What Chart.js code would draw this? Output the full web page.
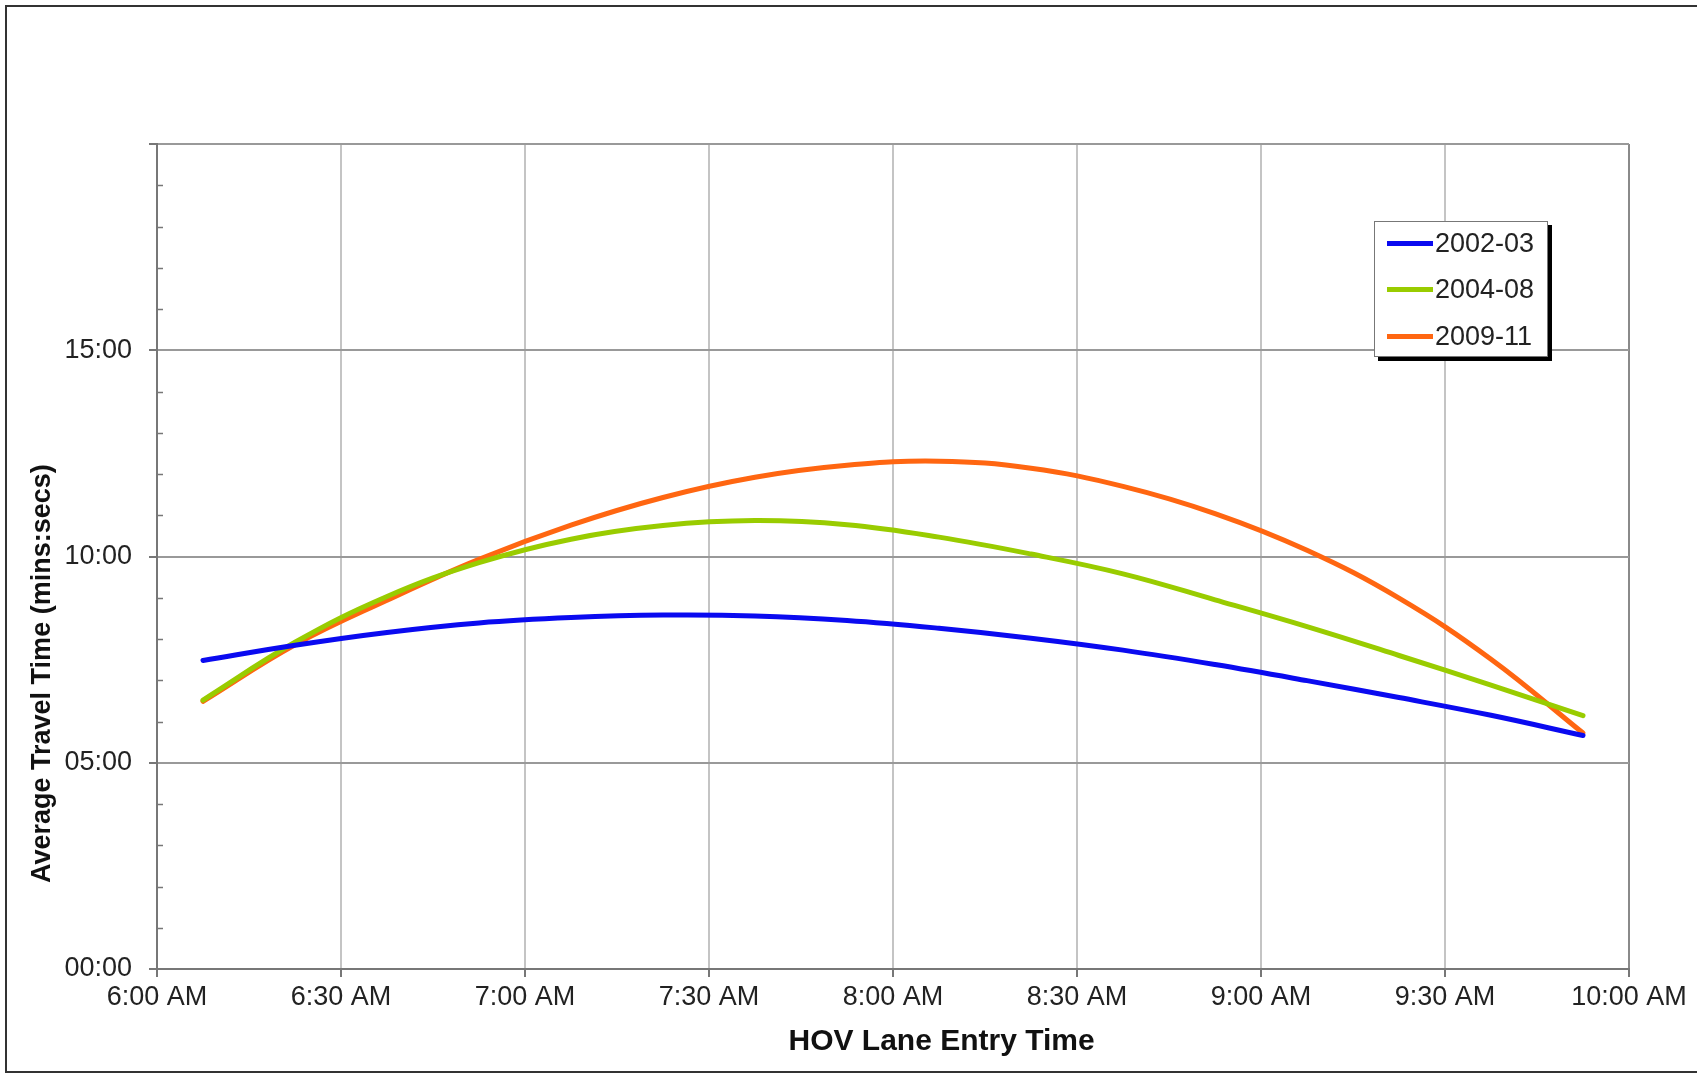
<!DOCTYPE html>
<html>
<head>
<meta charset="utf-8">
<script src="https://cdn.jsdelivr.net/npm/chart.js@4.4.1/dist/chart.umd.min.js"></script>
<style>
html,body{margin:0;padding:0;background:#fff;overflow:hidden;}
#wrap{position:relative;width:1697px;height:1074px;overflow:hidden;}
#frame{position:absolute;left:5px;top:5px;width:1720px;height:1068px;border:2px solid #333;box-sizing:border-box;pointer-events:none;}
#chart{position:absolute;left:0;top:0;}
#legend{position:absolute;left:1374px;top:221px;width:174px;height:136px;box-sizing:border-box;border:1px solid #777;background:#fff;box-shadow:4px 4px 0 #000;font:27px "Liberation Sans",Arial,sans-serif;color:#222;}
.item{position:absolute;left:0;height:30px;display:flex;align-items:center;white-space:nowrap;}
.swatch{width:46px;height:5px;margin-left:12px;}
.lbl{margin-left:2px;line-height:30px;}
</style>
</head>
<body>
<div id="wrap">
  <canvas id="chart" width="1697" height="1074"></canvas>
  <div id="frame"></div>
  <div id="legend"></div>
</div>
<script>
// ---- data (entry time in minutes after 6:00 AM / average travel time in minutes) ----
const entryTimes = [7.5, 22.5, 37.5, 52.5, 67.5, 82.5, 97.5, 112.5, 127.5, 142.5, 157.5, 172.5, 187.5, 202.5, 217.5, 232.5];
const series2002_03 = [7.48, 7.85, 8.16, 8.39, 8.52, 8.58, 8.56, 8.45, 8.26, 8.02, 7.73, 7.38, 6.99, 6.58, 6.15, 5.66];
const series2004_08 = [6.52, 7.92, 9.03, 9.85, 10.42, 10.75, 10.87, 10.77, 10.47, 10.06, 9.58, 8.95, 8.30, 7.60, 6.88, 6.14];
const series2009_11 = [6.49, 7.86, 8.94, 9.93, 10.76, 11.43, 11.92, 12.21, 12.31, 12.14, 11.70, 11.04, 10.15, 8.99, 7.51, 5.72];
const seriesLabels = ['2002-03', '2004-08', '2009-11'];
const seriesColors = ['#0a0af0', '#99cc00', '#ff6611'];
const xTickLabels = ['6:00 AM', '6:30 AM', '7:00 AM', '7:30 AM', '8:00 AM', '8:30 AM', '9:00 AM', '9:30 AM', '10:00 AM'];
const yTickLabels = ['00:00', '05:00', '10:00', '15:00', ''];
const xTitle = 'HOV Lane Entry Time';
const yTitle = 'Average Travel Time (mins:secs)';

const FONT = '"Liberation Sans", Arial, sans-serif';
const allSeries = [series2002_03, series2004_08, series2009_11];

const datasets = allSeries.map((vals, i) => ({
  label: seriesLabels[i],
  data: entryTimes.map((t, j) => ({x: t, y: vals[j]})),
  borderColor: seriesColors[i],
  backgroundColor: seriesColors[i],
  borderWidth: 5,
  pointRadius: 0,
  tension: 0.4,
  borderCapStyle: 'round',
  fill: false
}));

const decor = {
  id: 'decor',
  afterDraw(chart) {
    const {ctx, chartArea: a, scales: {y}} = chart;
    ctx.save();
    // minor inward ticks on the y axis
    ctx.strokeStyle = '#777';
    ctx.lineWidth = 1.5;
    for (let v = y.min; v <= y.max; v++) {
      if (v % 5 === 0) continue;
      const py = Math.round(y.getPixelForValue(v)) + 0.5;
      ctx.beginPath();
      ctx.moveTo(a.left, py);
      ctx.lineTo(a.left + 6, py);
      ctx.stroke();
    }
    // axis titles
    ctx.fillStyle = '#111';
    ctx.textAlign = 'center';
    ctx.textBaseline = 'middle';
    ctx.font = 'bold 30px ' + FONT;
    ctx.fillText(xTitle, a.left + (a.right - a.left) * 0.533, a.bottom + 73);
    ctx.font = 'bold 27px ' + FONT;
    ctx.translate(43, a.top + (a.bottom - a.top) * 0.642);
    ctx.rotate(-Math.PI / 2);
    ctx.fillText(yTitle, 0, 0);
    ctx.restore();
  }
};

const chart = new Chart(document.getElementById('chart'), {
  type: 'line',
  data: {datasets},
  options: {
    responsive: false,
    animation: false,
    devicePixelRatio: 1,
    layout: {padding: {left: 0, top: 144, right: 68, bottom: 0}},
    plugins: {legend: {display: false}, tooltip: {enabled: false}, title: {display: false}},
    scales: {
      x: {
        type: 'linear',
        min: 0, max: 240,
        afterFit: (s) => { s.height = 105; },
        ticks: {
          stepSize: 30,
          autoSkip: false,
          maxRotation: 0,
          padding: 4,
          color: '#222',
          font: {family: FONT, size: 27},
          callback: (v, i) => xTickLabels[i]
        },
        grid: {
          color: (c) => (c.tick && c.tick.value === 240) ? '#8a8a8a' : '#c4c4c4',
          lineWidth: 2,
          tickLength: 8,
          tickColor: '#777',
          drawTicks: true
        },
        border: {display: true, color: '#777', width: 2}
      },
      y: {
        type: 'linear',
        min: 0, max: 20,
        afterFit: (s) => { s.width = 157; },
        ticks: {
          stepSize: 5,
          autoSkip: false,
          padding: 17,
          color: '#222',
          font: {family: FONT, size: 27},
          callback: (v) => yTickLabels[Math.round(v / 5)]
        },
        grid: {
          color: '#999',
          lineWidth: 2,
          tickLength: 8,
          tickColor: '#777'
        },
        border: {display: true, color: '#777', width: 2}
      }
    }
  },
  plugins: [decor]
});

// legend built from the chart's datasets
const legend = document.getElementById('legend');
const rowTops = [6, 52, 99];
chart.data.datasets.forEach((ds, i) => {
  const item = document.createElement('div');
  item.className = 'item';
  item.style.top = rowTops[i] + 'px';
  const sw = document.createElement('span');
  sw.className = 'swatch';
  sw.style.background = ds.borderColor;
  const lb = document.createElement('span');
  lb.className = 'lbl';
  lb.textContent = ds.label;
  item.appendChild(sw);
  item.appendChild(lb);
  legend.appendChild(item);
});
</script>
</body>
</html>
